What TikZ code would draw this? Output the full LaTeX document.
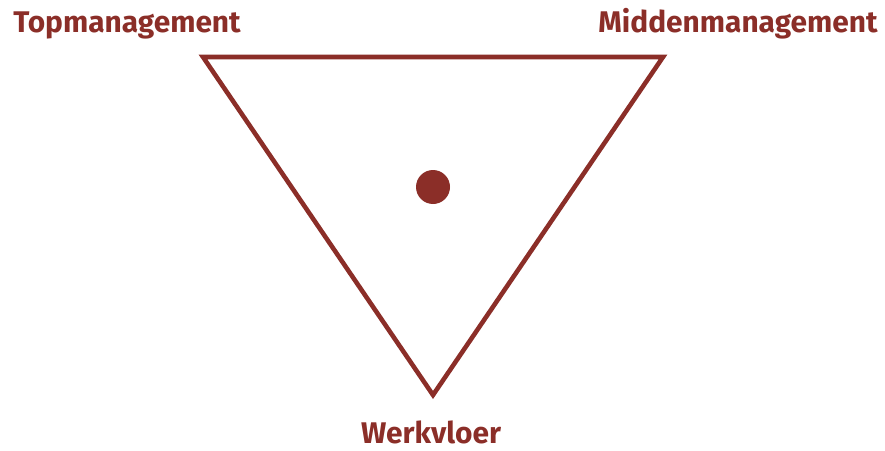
\documentclass[tikz,border=0pt]{standalone}
\usepackage{fontspec}
\setmainfont{Fira Sans}
\usetikzlibrary{positioning}
\definecolor{BrickRed}{HTML}{8B2E28}
\tikzset{
  levellabel/.style={text=BrickRed, font=\fontsize{17}{20}\selectfont\bfseries, inner sep=0pt, anchor=base},
  edgeline/.style={draw=BrickRed, line width=2.6pt, line join=miter}
}
\begin{document}
\begin{tikzpicture}[x=0.02cm, y=-0.02cm]
  \useasboundingbox (0,0) rectangle (885,450);
  % Corners
  \coordinate (top) at (203,57);
  \coordinate (mid) at (663,57);
  \coordinate (floor) at (433,395);
  \draw[edgeline] (top) -- (mid) -- (floor) -- cycle;
  % Centre
  \node[circle, fill=BrickRed, inner sep=0pt, minimum size=0.68cm] (centre) at (433,187) {};
  % Labels
  \node[levellabel] (toplabel) at (127,32) {Topmanagement};
  \node[levellabel] (midlabel) at (738,32) {Middenmanagement};
  \node[levellabel] (floorlabel) at (431,443) {Werkvloer};
\end{tikzpicture}
\end{document}
